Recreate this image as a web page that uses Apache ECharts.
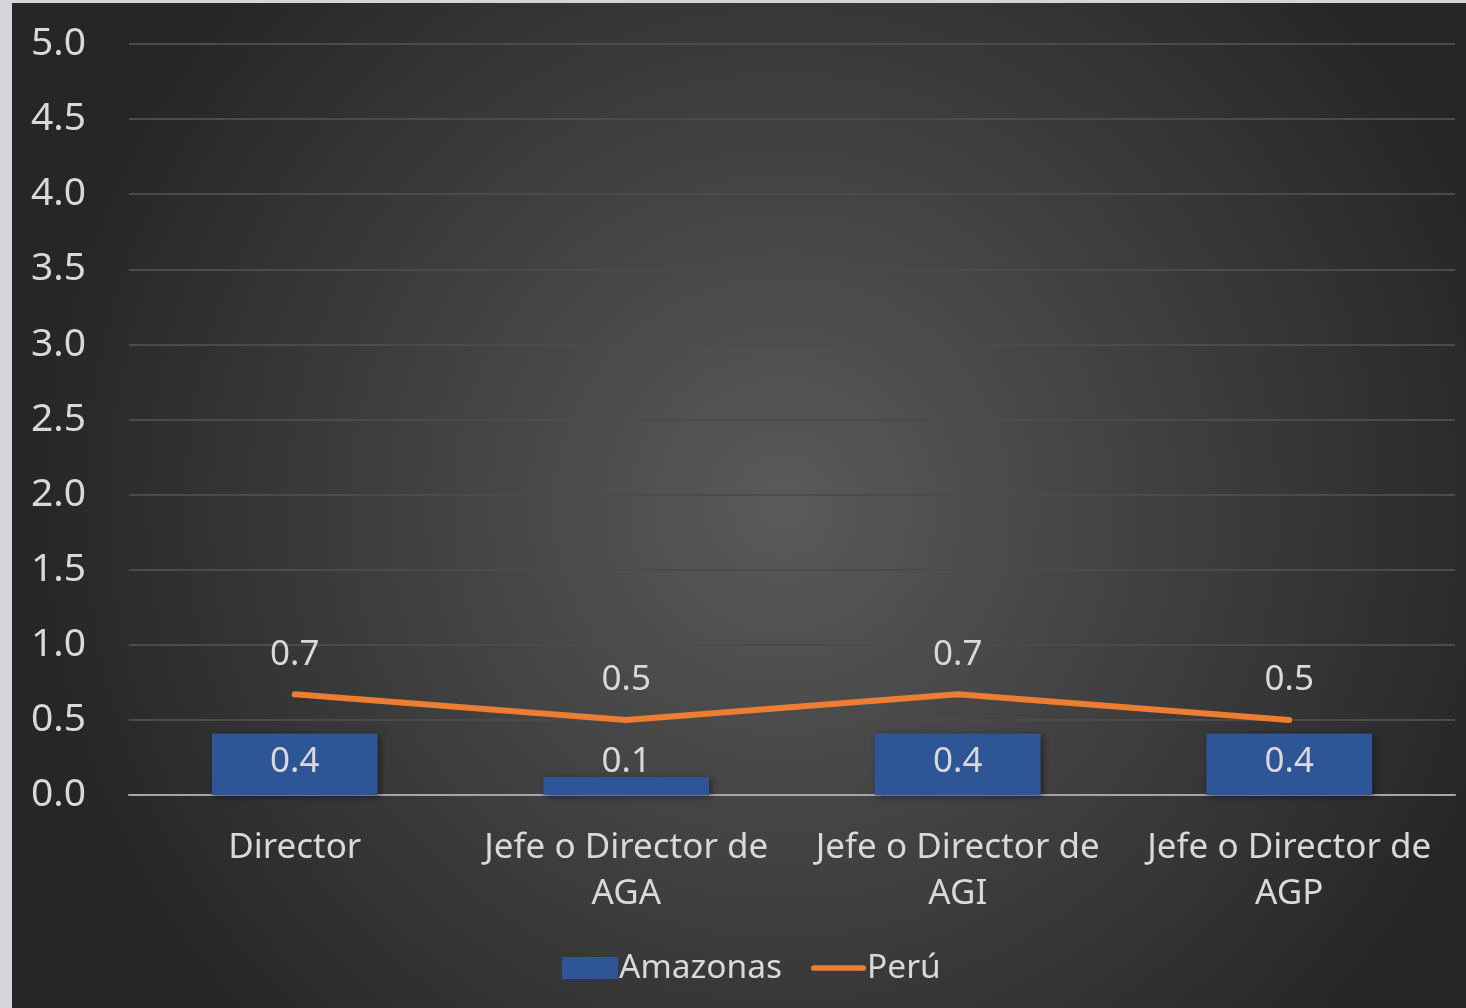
<!DOCTYPE html>
<html>
<head>
<meta charset="utf-8">
<script src="https://cdn.jsdelivr.net/npm/echarts@6/dist/echarts.min.js"></script>
<style>
  html, body { margin: 0; padding: 0; width: 1466px; height: 1008px; background: #d4d5da; overflow: hidden; }
  #chart { position: absolute; left: 12px; top: 3px; width: 1454px; height: 1005px; }
</style>
</head>
<body>
<div id="chart"></div>
<script>
const categories = ['Director', 'Jefe o Director de\nAGA', 'Jefe o Director de\nAGI', 'Jefe o Director de\nAGP']
const amazonas = [0.41, 0.12, 0.41, 0.41]
const peru = [0.67, 0.5, 0.67, 0.5]
const yTicks = { min: 0, max: 5, interval: 0.5 }

const TEXT = '#d9d9d9'
const FONT = 'Noto Sans'

const myEcharts = echarts.init(document.getElementById('chart'))
myEcharts.setOption({
  animation: false,
  backgroundColor: {
    type: 'radial',
    x: 0.53,
    y: 0.5,
    r: 0.75,
    colorStops: [
      { offset: 0, color: '#5a5a5a' },
      { offset: 1, color: '#262626' }
    ]
  },
  textStyle: { fontFamily: FONT, color: TEXT },
  grid: { left: 117, right: 11, top: 41, bottom: 213 },
  legend: {
    top: 943,
    left: 545,
    itemGap: 28,
    itemWidth: 56,
    itemHeight: 22,
    textStyle: { color: TEXT, fontSize: 33.5, fontFamily: FONT, padding: [0, 0, 0, -4] },
    data: [
      { name: 'Amazonas', icon: 'rect' },
      {
        name: 'Perú',
        icon: 'path://M0,0 L0,22 M4,8 L56,8 A3,3 0 0 1 56,14 L4,14 A3,3 0 0 1 4,8 Z',
        itemStyle: { color: '#ed7d31', borderWidth: 0 }
      }
    ]
  },
  xAxis: {
    type: 'category',
    data: categories,
    axisLine: { lineStyle: { color: '#a6a6a6', width: 2 } },
    axisTick: { show: false },
    axisLabel: { color: TEXT, fontSize: 35, lineHeight: 46, margin: 30, interval: 0 }
  },
  yAxis: {
    type: 'value',
    min: yTicks.min,
    max: yTicks.max,
    interval: yTicks.interval,
    axisLine: { show: false },
    axisTick: { show: false },
    axisLabel: {
      color: TEXT,
      fontSize: 39,
      margin: 43,
      padding: [3, 0, 0, 0],
      formatter: v => v.toFixed(1)
    },
    splitLine: { lineStyle: { color: '#4b4b4b', width: 2 } }
  },
  series: [
    {
      name: 'Amazonas',
      type: 'bar',
      data: amazonas,
      barWidth: '50%',
      itemStyle: {
        color: '#2e5596',
        shadowColor: 'rgba(0,0,0,0.45)',
        shadowBlur: 6,
        shadowOffsetX: 2,
        shadowOffsetY: 2
      },
      label: {
        show: true,
        position: 'insideBottom',
        distance: 15,
        color: TEXT,
        fontSize: 35,
        fontFamily: FONT,
        formatter: p => p.value.toFixed(1)
      },
      z: 2
    },
    {
      name: 'Perú',
      type: 'line',
      data: peru,
      symbol: 'circle',
      symbolSize: 0,
      showSymbol: true,
      lineStyle: { color: '#ed7d31', width: 6, cap: 'round', join: 'round' },
      itemStyle: { color: '#ed7d31' },
      label: {
        show: true,
        position: 'top',
        distance: 22,
        color: TEXT,
        fontSize: 35,
        fontFamily: FONT,
        formatter: p => p.value.toFixed(1)
      },
      z: 3
    }
  ]
})
</script>
</body>
</html>
